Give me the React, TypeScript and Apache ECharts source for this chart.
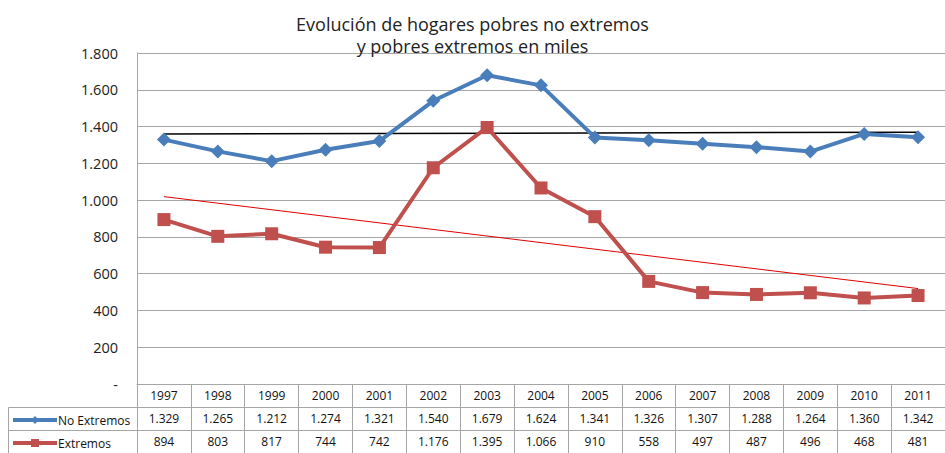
import React, { useEffect, useRef } from "react";
import * as echarts from "echarts";

const years = ["1997", "1998", "1999", "2000", "2001", "2002", "2003", "2004", "2005", "2006", "2007", "2008", "2009", "2010", "2011"];
const noExtremos = [1329, 1265, 1212, 1274, 1321, 1540, 1679, 1624, 1341, 1326, 1307, 1288, 1264, 1360, 1342];
const extremos = [894, 803, 817, 744, 742, 1176, 1395, 1066, 910, 558, 497, 487, 496, 468, 481];
// trend line end values (1997, 2011)
const trendNoExtremos = [1360, 1369];
const trendExtremos = [1019, 519];
const titleLines = ["Evolución de hogares pobres no extremos", "y pobres extremos en miles"];

const FONT = "Open Sans";
const GRID = "#a6a6a6";
const BLUE = "#4a7ebb";
const RED = "#c0504d";

function fmt(v: number): string {
  if (v === 0) return "-";
  const s = String(Math.round(v));
  return s.replace(/\B(?=(\d{3})+(?!\d))/g, ".");
}

export default function App() {
  const ref = useRef<HTMLDivElement>(null);
  useEffect(() => {
    document.body.style.margin = "0";
    const chart = echarts.init(ref.current!, null, { renderer: "svg" });
    const left = 137;
    const right = -2;
    const rowH = 23;
    const tableAxis = (offset: number, formatter: any, show: boolean) => ({
      type: "category",
      data: years,
      position: "bottom",
      offset,
      boundaryGap: true,
      axisLine: { show: true, lineStyle: { color: GRID, width: 1 } },
      axisTick: { show: true, interval: 0, length: rowH, alignWithLabel: false, lineStyle: { color: GRID, width: 1 } },
      axisLabel: { show, interval: 0, margin: 5, fontSize: 12, fontFamily: FONT, color: "#111", formatter },
      splitLine: { show: false },
    });
    const legendBase = {
      left: 11,
      padding: 0,
      itemWidth: 44,
      itemHeight: 10,
      itemGap: 3,
      lineStyle: { width: 4 },
      textStyle: { fontSize: 12, fontFamily: FONT, color: "#111", padding: [0, 0, 0, -4] },
    };
    chart.setOption({
      animation: false,
      title: {
        text: titleLines.join("\n"),
        left: "center",
        top: 8,
        textStyle: { fontSize: 18, fontWeight: "normal", fontFamily: FONT, color: "#222", lineHeight: 22 },
      },
      legend: [
        { ...legendBase, data: ["No Extremos"], top: 414 },
        { ...legendBase, data: ["Extremos"], top: 437 },
      ],
      grid: { left, right, top: 53, bottom: 69, containLabel: false },
      xAxis: [
        tableAxis(0, (v: string) => v, true),
        tableAxis(rowH, (_v: string, i: number) => fmt(noExtremos[i]), true),
        tableAxis(rowH * 2, (_v: string, i: number) => fmt(extremos[i]), true),
      ],
      yAxis: {
        type: "value",
        min: 0,
        max: 1800,
        interval: 200,
        axisLine: { show: true, lineStyle: { color: GRID, width: 1 } },
        axisTick: { show: false },
        axisLabel: { fontSize: 14.5, fontFamily: FONT, color: "#222", margin: 19, formatter: (v: number) => fmt(v) },
        splitLine: { show: true, lineStyle: { color: GRID, width: 1 } },
      },
      graphic: [
        { type: "rect", shape: { x: 8.5, y: 407.5, width: 129, height: 50 }, style: { fill: "none", stroke: GRID, lineWidth: 1 } },
        { type: "line", shape: { x1: 8.5, y1: 430.5, x2: 137, y2: 430.5 }, style: { stroke: GRID, lineWidth: 1 } },
      ],
      series: [
        {
          name: "No Extremos",
          type: "line",
          data: noExtremos,
          symbol: "diamond",
          symbolSize: 14,
          itemStyle: { color: BLUE },
          lineStyle: { color: BLUE, width: 4 },
          z: 3,
        },
        {
          name: "Extremos",
          type: "line",
          data: extremos,
          symbol: "rect",
          symbolSize: 13,
          itemStyle: { color: RED },
          lineStyle: { color: RED, width: 4 },
          z: 3,
        },
        {
          name: "trendNo",
          type: "line",
          data: [[years[0], trendNoExtremos[0]], [years[years.length - 1], trendNoExtremos[1]]],
          symbol: "none",
          lineStyle: { color: "#000", width: 1.5 },
          silent: true,
          z: 2,
        },
        {
          name: "trendEx",
          type: "line",
          data: [[years[0], trendExtremos[0]], [years[years.length - 1], trendExtremos[1]]],
          symbol: "none",
          lineStyle: { color: "#e00000", width: 1 },
          silent: true,
          z: 2,
        },
      ],
    });
    return () => chart.dispose();
  }, []);
  return <div ref={ref} style={{ width: 945, height: 453 }} />;
}
